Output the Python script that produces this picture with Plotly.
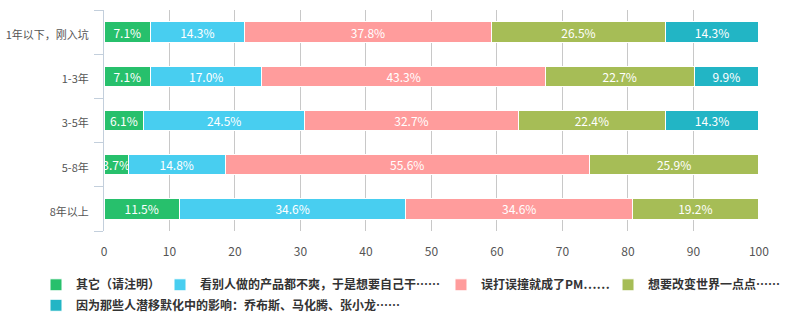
import plotly.graph_objects as go

# Experience buckets (top to bottom)
categories = ["1年以下，刚入坑", "1-3年", "3-5年", "5-8年", "8年以上"]

# Reasons for becoming a PM, share (%) per experience bucket
series_names = [
    "其它（请注明）",
    "看别人做的产品都不爽，于是想要自己干……",
    "误打误撞就成了PM……",
    "想要改变世界一点点……",
    "因为那些人潜移默化中的影响：乔布斯、马化腾、张小龙……",
]
other = [7.1, 7.1, 6.1, 3.7, 11.5]
unhappy = [14.3, 17.0, 24.5, 14.8, 34.6]
by_chance = [37.8, 43.3, 32.7, 55.6, 34.6]
change_world = [26.5, 22.7, 22.4, 25.9, 19.2]
influence = [14.3, 9.9, 14.3, 0.0, 0.0]

colors = ["#27c06c", "#48cef0", "#ff9c9c", "#a6bd56", "#22b5c5"]
x_ticks = list(range(0, 101, 10))

font_family = "Noto Sans CJK SC, Noto Sans, sans-serif"
ypos = list(range(len(categories)))

# one legend box per series so each entry sits at its own spot
legend_ids = ["legend", "legend2", "legend3", "legend4", "legend5"]
legend_xy = [(-0.1038, -0.2434), (0.0855, -0.2434), (0.5145, -0.2434),
             (0.7695, -0.2434), (-0.1038, -0.336)]

fig = go.Figure()
for name, vals, color, lid in zip(
    series_names, [other, unhappy, by_chance, change_world, influence], colors, legend_ids
):
    fig.add_trace(
        go.Bar(
            name=name,
            y=ypos,
            x=vals,
            orientation="h",
            width=0.465,
            marker=dict(color=color, line=dict(color="#ffffff", width=1)),
            text=[f"{v:.1f}%" if v > 0 else "" for v in vals],
            textposition="inside",
            insidetextanchor="middle",
            insidetextfont=dict(color="#ffffff", size=12, family=font_family),
            constraintext="none",
            cliponaxis=False,
            hoverinfo="x+name",
            legend=lid,
        )
    )

legend_style = dict(
    orientation="h",
    xanchor="left",
    yanchor="middle",
    font=dict(size=12, color="#333333", family=font_family, weight="bold"),
    itemwidth=30,
    bgcolor="rgba(0,0,0,0)",
)
legend_layout = {}
for lid, (lx, ly) in zip(legend_ids, legend_xy):
    legend_layout[lid] = dict(legend_style, x=lx, y=ly)

fig.update_layout(
    barmode="stack",
    width=810,
    height=330,
    margin=dict(l=104, r=51, t=10, b=94),
    plot_bgcolor="#ffffff",
    paper_bgcolor="#ffffff",
    font=dict(family=font_family, size=12, color="#555555"),
    uniformtext=dict(minsize=12, mode="show"),
    showlegend=True,
    **legend_layout,
)

fig.update_xaxes(
    range=[0, 100.02],
    tickvals=x_ticks,
    showgrid=True,
    gridcolor="#c8c8c8",
    gridwidth=1,
    zeroline=False,
    showline=False,
    ticks="",
    ticklabelstandoff=12,
    tickfont=dict(size=12, color="#555555"),
    automargin=False,
    fixedrange=True,
)

fig.update_yaxes(
    range=[len(categories) - 0.5, -0.5],
    tickvals=ypos,
    ticktext=categories,
    showgrid=False,
    zeroline=False,
    showline=True,
    linecolor="#c3cfdc",
    linewidth=1,
    ticks="",
    ticklabelstandoff=12,
    ticklabelshift=-3,
    tickfont=dict(size=11, color="#555555"),
    automargin=False,
    minor=dict(
        tickvals=[i - 0.5 for i in range(len(categories) + 1)],
        ticks="outside",
        ticklen=9,
        tickcolor="#c3cfdc",
        tickwidth=1,
        showgrid=False,
    ),
    fixedrange=True,
)

fig.write_html("out.html")
